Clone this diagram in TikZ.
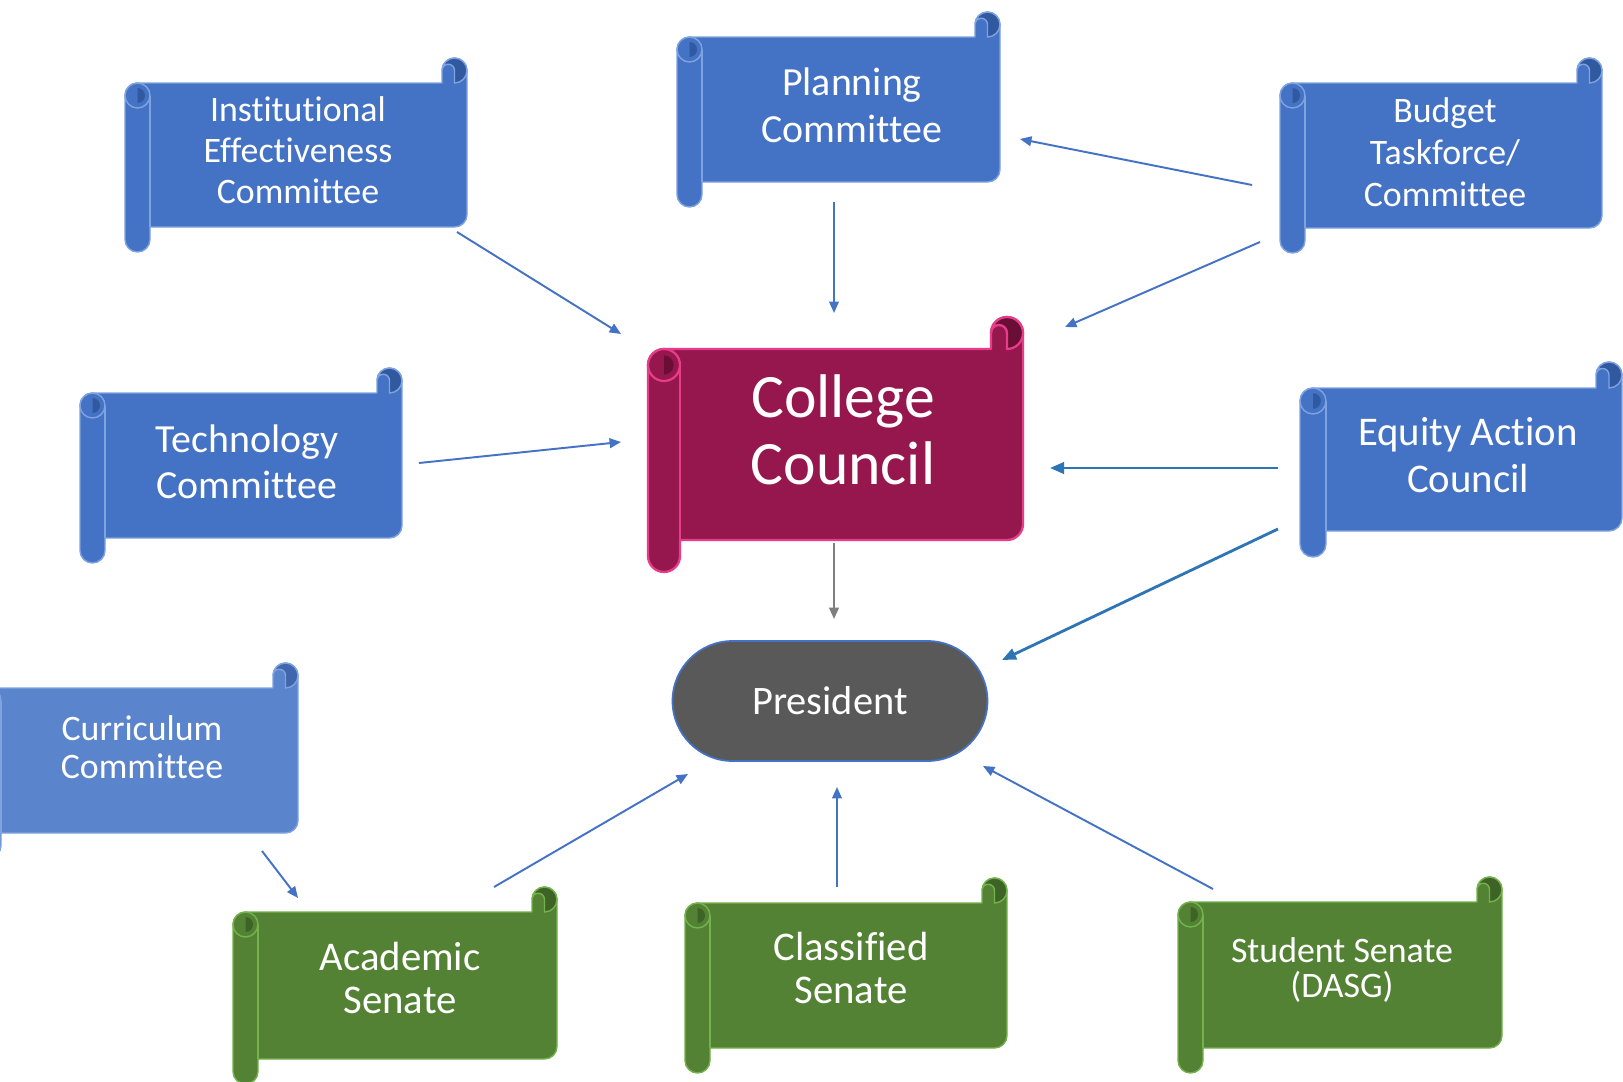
\documentclass[tikz,border=0pt]{standalone}
\usepackage{fontspec}
\setmainfont{Carlito}[Ligatures={NoCommon}]
\usetikzlibrary{arrows.meta,shapes.misc}

\definecolor{bfill}{HTML}{4472C4}
\definecolor{bdark}{HTML}{30599F}
\definecolor{bedge}{HTML}{7FA3E0}
\definecolor{cfill}{HTML}{5A84CB}
\definecolor{cdark}{HTML}{4066AE}
\definecolor{mfill}{HTML}{96174D}
\definecolor{mdark}{HTML}{6A0E36}
\definecolor{medge}{HTML}{E63C8A}
\definecolor{gfill}{HTML}{548235}
\definecolor{gdark}{HTML}{3E6327}
\definecolor{gedge}{HTML}{74B24B}
\definecolor{pfill}{HTML}{595959}
\definecolor{linkblue}{HTML}{4472C4}
\definecolor{linkdeep}{HTML}{2E75B6}
\definecolor{linkgrey}{HTML}{7F7F7F}

% Horizontal scroll: #1,#2 top-left, #3,#4 bottom-right, #5 roll thickness,
% #6 body colour, #7 shaded colour, #8 edge style
\newcommand{\scrollshape}[8]{%
  \pgfmathsetmacro\sh{#5/2}%
  \filldraw[fill=#6,#8,line join=round]
    (#1,#2+1.5*#5) arc[start angle=180,end angle=270,radius=\sh]
    -- (#3-#5,#2+#5) -- (#3-#5,#2+\sh)
    arc[start angle=180,end angle=360,radius=\sh]
    -- (#3,#4-#5-\sh)
    arc[start angle=0,end angle=90,radius=\sh]
    -- (#1+#5,#4-#5) -- (#1+#5,#4-\sh)
    arc[start angle=0,end angle=180,radius=\sh] -- cycle;
  \filldraw[fill=#7,#8]
    (#3-\sh,#2+#5) arc[start angle=90,end angle=-180,radius=\sh]
    arc[start angle=180,end angle=360,radius=\sh/2] -- cycle;
  \filldraw[fill=#6,#8] (#1+\sh,#2+1.5*#5) circle[radius=\sh];
  \fill[#7] (#1+\sh,#2+1.5*#5-0.6*\sh)
    arc[start angle=-90,end angle=90,radius=0.6*\sh] -- cycle;
  \draw[#8] (#1+#5,#2+1.5*#5) -- (#1+#5,#4-#5);
}

\begin{document}
\begin{tikzpicture}[x=0.02cm,y=-0.02cm,
  bline/.style={draw=bedge,line width=0.8pt},
  mline/.style={draw=medge,line width=1.3pt},
  gline/.style={draw=gedge,line width=0.8pt},
  lbl/.style={text=white,align=center,inner sep=0pt},
  link/.style={draw=linkblue,line width=1.1pt,-{Triangle[length=6.5pt,width=5.5pt]}},
  boldlink/.style={draw=linkdeep,line width=1.6pt,-{Triangle[length=8pt,width=6.5pt]}},
  greylink/.style={draw=linkgrey,line width=1.2pt,-{Triangle[length=6.5pt,width=5.5pt]}},
  pill/.style={rounded rectangle,fill=pfill,draw=linkblue,line width=1pt,
    minimum width=6.3cm,minimum height=2.4cm,text=white,inner sep=0pt}]
\fill[white] (0,0) rectangle (1623,1082);
\useasboundingbox (0,0) rectangle (1623,1082);

% committee scrolls
\scrollshape{125}{58}{467}{252}{25}{bfill}{bdark}{bline}
\scrollshape{677}{12}{1000}{207}{25}{bfill}{bdark}{bline}
\scrollshape{1280}{58}{1602}{253}{25}{bfill}{bdark}{bline}
\scrollshape{80}{368}{402}{563}{25}{bfill}{bdark}{bline}
\scrollshape{1300}{362}{1622}{557}{26}{bfill}{bdark}{bline}
\scrollshape{-24}{663}{298}{858}{25}{cfill}{cdark}{bline}
\scrollshape{648}{317}{1023}{572}{32}{mfill}{mdark}{mline}
\scrollshape{233}{887}{557}{1084}{25}{gfill}{gdark}{gline}
\scrollshape{685}{878}{1007}{1073}{25}{gfill}{gdark}{gline}
\scrollshape{1178}{877}{1502}{1073}{25}{gfill}{gdark}{gline}

% labels
\node[lbl,font=\fontsize{20.4}{23.4}\selectfont] (ie) at (298,150) {Institutional\\Effectiveness\\Committee};
\node[lbl,font=\fontsize{22.7}{26.6}\selectfont] (plan) at (852,105) {Planning\\Committee};
\node[lbl,font=\fontsize{20.4}{23.8}\selectfont] (budget) at (1445,152) {Budget\\Taskforce/\\Committee};
\node[lbl,font=\fontsize{22.7}{26}\selectfont] (tech) at (247,462) {Technology\\Committee};
\node[lbl,font=\fontsize{23.2}{26.6}\selectfont] (equity) at (1468,455) {Equity Action\\Council};
\node[lbl,font=\fontsize{20.4}{21.5}\selectfont] (curr) at (142,747) {Curriculum\\Committee};
\node[lbl,font=\fontsize{35.1}{38}\selectfont] (cc) at (843,430) {College\\Council};
\node[pill,font=\fontsize{23}{27}\selectfont] (pres) at (830,701) {President};
\node[lbl,font=\fontsize{23.2}{24.4}\selectfont] (acad) at (400,978) {Academic\\Senate};
\node[lbl,font=\fontsize{23.2}{25}\selectfont] (class) at (851,968) {Classified\\Senate};
\node[lbl,font=\fontsize{20.4}{20.4}\selectfont] (student) at (1342,970) {Student Senate\\(DASG)};

% connector ends
\coordinate (ie-o) at (457,232);      \coordinate (cc-ie) at (621,334);
\coordinate (plan-o) at (834,202);    \coordinate (cc-plan) at (834,313);
\coordinate (budget-o1) at (1252,185);\coordinate (plan-budget) at (1020,139);
\coordinate (budget-o2) at (1260,242);\coordinate (cc-budget) at (1065,327);
\coordinate (tech-o) at (419,463);    \coordinate (cc-tech) at (621,442);
\coordinate (equity-o1) at (1278,468);\coordinate (cc-equity) at (1050,468);
\coordinate (equity-o2) at (1278,529);\coordinate (pres-equity) at (1002,660);
\coordinate (cc-o) at (834,543);      \coordinate (pres-cc) at (834,619);
\coordinate (curr-o) at (262,851);    \coordinate (acad-curr) at (298,898);
\coordinate (acad-o) at (494,887);    \coordinate (pres-acad) at (688,774);
\coordinate (class-o) at (837,887);   \coordinate (pres-class) at (837,787);
\coordinate (student-o) at (1213,889);\coordinate (pres-student) at (983,766);

% connectors
\draw[link] (ie-o) -- (cc-ie);
\draw[link] (plan-o) -- (cc-plan);
\draw[link] (budget-o1) -- (plan-budget);
\draw[link] (budget-o2) -- (cc-budget);
\draw[link] (tech-o) -- (cc-tech);
\draw[boldlink] (equity-o1) -- (cc-equity);
\draw[boldlink] (equity-o2) -- (pres-equity);
\draw[greylink] (cc-o) -- (pres-cc);
\draw[link] (curr-o) -- (acad-curr);
\draw[link] (acad-o) -- (pres-acad);
\draw[link] (class-o) -- (pres-class);
\draw[link] (student-o) -- (pres-student);
\end{tikzpicture}
\end{document}
